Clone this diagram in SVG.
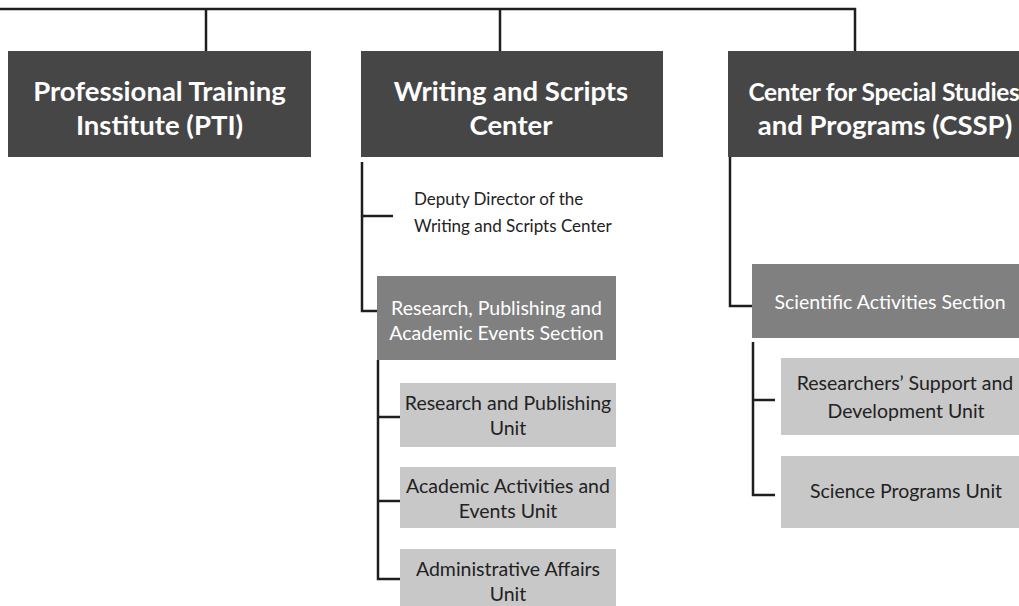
<svg xmlns="http://www.w3.org/2000/svg" width="1019" height="606" viewBox="0 0 1019 606">
<style>
.conn{fill:none;stroke:#1e1e1e;stroke-width:2.5;}
.top{fill:#464646;}
.sec{fill:#808080;}
.unit{fill:#c8c8c8;}
.tt{font-family:Lato,"Liberation Sans",sans-serif;font-weight:bold;font-size:27.5px;fill:#ffffff;text-anchor:middle;}
.st{font-family:Lato,"Liberation Sans",sans-serif;font-size:19.5px;fill:#ffffff;text-anchor:middle;}
.ut{font-family:Lato,"Liberation Sans",sans-serif;font-size:19.5px;fill:#222222;text-anchor:middle;}
.dt{font-family:Lato,"Liberation Sans",sans-serif;font-size:17px;fill:#222222;}
</style>
<rect width="1019" height="606" fill="#ffffff"/>
<g id="connectors">
<path class="conn" d="M0,9 H855 V51"/>
<path class="conn" d="M206,9 V51"/>
<path class="conn" d="M500,9 V51"/>
<path class="conn" d="M362,162 V311 H377"/>
<path class="conn" d="M362,216 H393"/>
<path class="conn" d="M378,360 V579 H400"/>
<path class="conn" d="M378,417 H400"/>
<path class="conn" d="M378,501 H400"/>
<path class="conn" d="M730,157 V306 H752"/>
<path class="conn" d="M753,342 V495 H775"/>
<path class="conn" d="M753,400 H775"/>
</g>
<g id="pti">
<rect class="top" x="8" y="51" width="303" height="106"/>
<text class="tt" x="159.5" y="101">Professional Training</text>
<text class="tt" x="159.5" y="135">Institute (PTI)</text>
</g>
<g id="wsc">
<rect class="top" x="361" y="51" width="302" height="106"/>
<text class="tt" x="511" y="101">Writing and Scripts</text>
<text class="tt" x="511" y="135">Center</text>
</g>
<g id="cssp">
<rect class="top" x="728" y="51" width="320" height="106"/>
<text class="tt" x="884" y="101" style="font-size:24.5px;letter-spacing:-0.3px">Center for Special Studies</text>
<text class="tt" x="885" y="135">and Programs (CSSP)</text>
</g>
<g id="deputy">
<text class="dt" x="414" y="205">Deputy Director of the</text>
<text class="dt" x="414" y="231.5">Writing and Scripts Center</text>
</g>
<g id="rpae">
<rect class="sec" x="377" y="276" width="239" height="84"/>
<text class="st" x="496.5" y="315">Research, Publishing and</text>
<text class="st" x="496.5" y="340">Academic Events Section</text>
</g>
<g id="rpu">
<rect class="unit" x="400" y="383" width="216" height="64"/>
<text class="ut" x="508" y="410">Research and Publishing</text>
<text class="ut" x="508" y="435">Unit</text>
</g>
<g id="aaeu">
<rect class="unit" x="400" y="467" width="216" height="61"/>
<text class="ut" x="508" y="493">Academic Activities and</text>
<text class="ut" x="508" y="518">Events Unit</text>
</g>
<g id="aau">
<rect class="unit" x="400" y="549" width="216" height="57"/>
<text class="ut" x="508" y="576">Administrative Affairs</text>
<text class="ut" x="508" y="601">Unit</text>
</g>
<g id="sas">
<rect class="sec" x="752" y="264" width="290" height="74"/>
<text class="st" x="890" y="309">Scientific Activities Section</text>
</g>
<g id="rsdu">
<rect class="unit" x="781" y="358" width="260" height="77"/>
<text class="ut" x="905" y="390">Researchers’ Support and</text>
<text class="ut" x="906" y="418">Development Unit</text>
</g>
<g id="spu">
<rect class="unit" x="781" y="456" width="260" height="72"/>
<text class="ut" x="906" y="498">Science Programs Unit</text>
</g>
</svg>
